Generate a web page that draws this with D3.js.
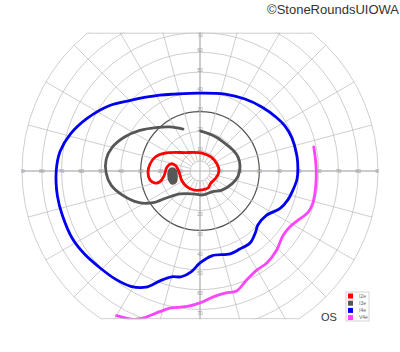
<!DOCTYPE html>
<html>
<head>
<meta charset="utf-8">
<script src="https://cdn.jsdelivr.net/npm/d3@7/dist/d3.min.js"></script>
<style>
    body { margin: 0; background: #fff; }
    #chart { width: 400px; height: 352px; }
    text { font-family: 'Liberation Sans', Arial, sans-serif; }
</style>
</head>
<body>
<div id="chart"></div>
<script>
//Datos: pares [meridiano (grados), excentricidad (grados)]
const i2e = [[153,19.9],[129,12],[84,9.1],[52,9],[22,9.3],[0,9.6],[336,8.8],[312,8.2],[295,9.5],[276,9.6],
    [252,10.1],[231,10.4],[209,10.4],[183,10.6],[168,12.4],[166,15.1],[173,16.8],[188,18.4],[195,21],
    [195,23.5],[190,25.7],[181,26.3],[172,25.5],[163,23.8]];

const i3e = [[112,22.9],[124,26.9],[134,30.7],[146,36.7],[156,42],[165,46],[173,47.8],[181,47.5],[189,45.5],
    [197,41.2],[207,35],[214,28.7],[219,21.5],[229,15.4],[253,12.1],[277,12.2],[300,12.2],[319,14.7],
    [338,17.4],[352,19.4],[7,20.4],[20,20.5],[32,19.8],[46,18.9],[65,19],[80,19.5],[89,20.2]];

const i3eScotoma = [[174,14.2],[178,12.1],[192,11.9],[205,13.3],[205,15.6],[198,16.4],[187,16.3],[178,15.7]];

const i4e = [[1,49.5],[9,49.6],[20,49.4],[28,48.6],[35,47.2],[46,45],[58,42.9],[72,40.9],[90,39.4],[108,40.9],
    [118,43.4],[135,50.4],[144,56.4],[155,63],[164,68.1],[172,71.4],[180,72.7],[190,73.2],[198,73.1],
    [208,73],[216,71.9],[224,70.4],[232,69.4],[239,68],[245,64.8],[250,59.1],[255,55.4],[260,54.3],
    [265,51.2],[270,46.5],[278,43.3],[290,44.6],[297,44.3],[305,44.3],[312,41.9],[317,40],[326,40.3],
    [335,44.7],[342,46.8],[348,47.9],[355,49.2]];

const v4e = [[12,58.8],[3,58.7],[353,59],[344,59.3],[339,58.5],[333,55.3],[328,53.5],[322,53.2],[314,55.7],
    [306,57.5],[300,57.7],[293,60],[287,63.4],[282,63],[276,64],[270,66.7],[264,69],[258,70.8],[254,74],
    [249,79.6],[246,82.1],[240,84.4]];

//Rejilla y etiquetas
const rings = [10, 20, 30, 40, 50, 60, 70, 80, 90];
const meridians = d3.range(0, 360, 15);
const hTicks = [10, 20, 30, 40, 50, 60, 70, 80, 90];
const vTicks = [10, 20, 30, 40, 50, 60, 70];
const legendLabels = ['I2e', 'I3e', 'I4e', 'V4e'];

const COLOR_I2E = '#ff0000',
    COLOR_I3E = '#575757',
    COLOR_I4E = '#0000ee',
    COLOR_V4E = '#ff44ff',
    COLOR_GRID = '#c2c2c2';

const width = 400, height = 352,
    cx = 200, cy = 171;

let svg = d3.select('#chart')
    .append('svg')
        .attr('width', width)
        .attr('height', height);

let r = d3.scaleLinear()
    .domain([0, 90])
    .range([0, 178]);

let color = d3.scaleOrdinal()
    .domain(legendLabels)
    .range([COLOR_I2E, COLOR_I3E, COLOR_I4E, COLOR_V4E]);

//Recorte: círculo de 90º cortado arriba (70º) y abajo (75º)
let defs = svg.append('defs');
defs.append('clipPath').attr('id', 'clipBand')
    .append('rect')
        .attr('x', -r(90) - 2)
        .attr('y', -r(70))
        .attr('width', 2 * r(90) + 4)
        .attr('height', r(70) + r(75));
defs.append('clipPath').attr('id', 'clipCircle')
    .append('circle')
        .attr('r', r(90) + 1);

let outer = svg.append('g')
    .attr('transform', 'translate(' + cx + ',' + cy + ')')
    .attr('clip-path', 'url(#clipBand)');
let g = outer.append('g')
    .attr('clip-path', 'url(#clipCircle)');

//Círculos
g.selectAll('.ring')
    .data([5].concat(rings))
    .enter()
    .append('circle')
        .attr('r', d => r(d))
        .attr('fill', 'none')
        .attr('stroke', d => d == 30 ? '#555' : COLOR_GRID)
        .attr('stroke-width', d => d == 30 ? 1.2 : 0.8);

//Meridianos
g.selectAll('.meridian')
    .data(meridians)
    .enter()
    .append('line')
        .attr('x1', d => r(5) * Math.cos(d * Math.PI / 180))
        .attr('y1', d => -r(5) * Math.sin(d * Math.PI / 180))
        .attr('x2', d => r(90) * Math.cos(d * Math.PI / 180))
        .attr('y2', d => -r(90) * Math.sin(d * Math.PI / 180))
        .attr('stroke', COLOR_GRID)
        .attr('stroke-width', 0.8);

//Ejes centrales
g.append('line')
    .attr('x1', -r(90)).attr('x2', r(90))
    .attr('stroke', '#aaa').attr('stroke-width', 0.9);
g.append('line')
    .attr('y1', -r(90)).attr('y2', r(90))
    .attr('stroke', '#aaa').attr('stroke-width', 0.9);

//Bordes superior e inferior
[-r(70), r(75)].forEach(function(y) {
    let half = Math.sqrt(r(90) * r(90) - y * y);
    outer.append('line')
        .attr('x1', -half).attr('x2', half)
        .attr('y1', y + (y < 0 ? 0.5 : -0.5)).attr('y2', y + (y < 0 ? 0.5 : -0.5))
        .attr('stroke', COLOR_GRID)
        .attr('stroke-width', 1);
});

//Etiquetas de los ejes
let labels = g.append('g')
    .attr('fill', '#9a9a9a')
    .attr('font-size', '5px')
    .attr('text-anchor', 'middle');

hTicks.forEach(function(d) {
    [-1, 1].forEach(function(s) {
        labels.append('text')
            .attr('x', s * r(d))
            .attr('y', 1.8)
            .text(d);
    });
});
vTicks.forEach(function(d) {
    labels.append('text')
        .attr('x', 0)
        .attr('y', -r(d) + (d == 70 ? 4.5 : -0.5))
        .text(d);
    labels.append('text')
        .attr('x', 0)
        .attr('y', r(d) + 5.5)
        .text(d);
});

//Isópteras
let radial = d3.lineRadial()
    .angle(d => (90 - d[0]) * Math.PI / 180)
    .radius(d => r(d[1]));

let isopters = [
    { name: 'I4e', data: i4e, closed: true },
    { name: 'V4e', data: v4e, closed: false },
    { name: 'I3e', data: i3e, closed: false },
    { name: 'I2e', data: i2e, closed: true }
];

isopters.forEach(function(item) {
    g.append('path')
        .attr('d', radial.curve(item.closed ? d3.curveCatmullRomClosed.alpha(0.5) : d3.curveCatmullRom.alpha(0.5))(item.data))
        .attr('fill', 'none')
        .attr('stroke', color(item.name))
        .attr('stroke-width', 2.8)
        .attr('stroke-linecap', 'round')
        .attr('stroke-linejoin', 'round');
});

//Escotoma (mancha ciega)
g.append('path')
    .attr('d', radial.curve(d3.curveCatmullRomClosed.alpha(0.5))(i3eScotoma))
    .attr('fill', COLOR_I3E)
    .attr('stroke', COLOR_I3E)
    .attr('stroke-width', 1.5);

//Título
svg.append('text')
    .attr('x', 399)
    .attr('y', 14)
    .attr('text-anchor', 'end')
    .attr('font-size', '13px')
    .attr('fill', '#333')
    .text('©StoneRoundsUIOWA');

svg.append('text')
    .attr('x', 321)
    .attr('y', 321)
    .attr('font-size', '11px')
    .attr('fill', '#333')
    .text('OS');

//Leyenda
let legend = svg.append('g')
    .attr('transform', 'translate(346,292)');
legend.append('rect')
    .attr('width', 23)
    .attr('height', 29)
    .attr('fill', '#fff')
    .attr('stroke', '#c8c8c8')
    .attr('stroke-width', 0.8);
let items = legend.selectAll('.item')
    .data(legendLabels)
    .enter()
    .append('g')
        .attr('transform', (d, i) => 'translate(2,' + (1.5 + i * 7.2) + ')');
items.append('rect')
    .attr('width', 5)
    .attr('height', 5)
    .attr('fill', d => color(d));
items.append('text')
    .attr('x', 11)
    .attr('y', 4.3)
    .attr('font-size', '5px')
    .attr('fill', '#666')
    .text(d => d);
</script>
</body>
</html>
